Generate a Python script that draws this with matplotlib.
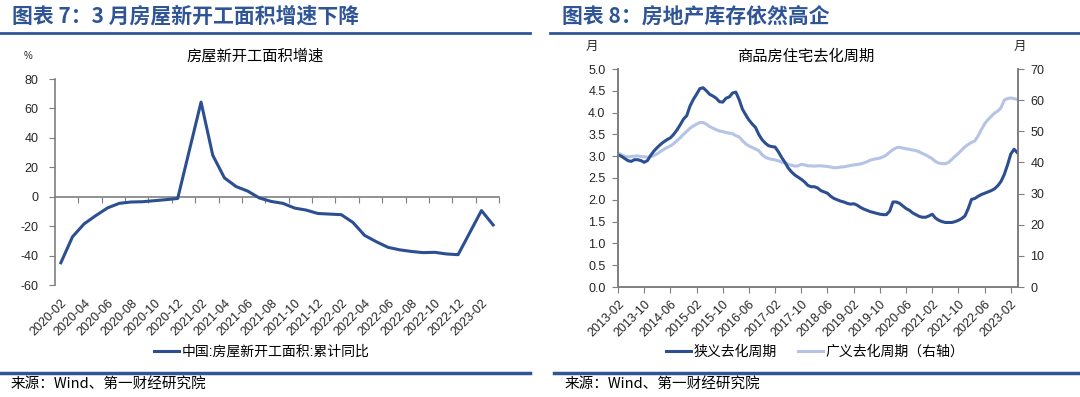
import numpy as np
import pandas as pd
import matplotlib
matplotlib.use('Agg')
import matplotlib.pyplot as plt

plt.rcParams['font.family'] = ['Liberation Sans', 'Noto Sans CJK SC', 'DejaVu Sans']
plt.rcParams['axes.unicode_minus'] = False

# %% data: 图表7 房屋新开工面积累计同比 (%), Jan is missing (NaN, line bridges it)
months_l = pd.period_range('2020-02', '2023-03', freq='M')
newstart_yoy = [-44.9, -27.2, -18.4, -12.8, -7.6, -4.5, -3.6, -3.4, -2.7, -2.0, -1.2,
                np.nan, 64.3, 28.2, 12.8, 6.9, 3.8, -0.9, -3.2, -4.5, -7.7, -9.1, -11.4,
                np.nan, -12.2, -17.5, -26.3, -30.6, -34.4, -36.1, -37.2, -38.0, -37.8, -38.9, -39.4,
                np.nan, -9.4, -19.2]

# %% data: 图表8 商品房住宅去化周期 (月)
months_r = pd.period_range('2013-02', '2023-04', freq='M')
narrow_cycle = [3.03, 3.00, 2.95, 2.90, 2.88, 2.92, 2.92, 2.90, 2.86, 2.90,
                3.02, 3.12, 3.20, 3.27, 3.33, 3.38, 3.42, 3.50, 3.60, 3.72,
                3.85, 3.93, 4.15, 4.30, 4.42, 4.55, 4.57, 4.50, 4.42, 4.38,
                4.33, 4.25, 4.24, 4.33, 4.36, 4.45, 4.47, 4.30, 4.08, 3.95,
                3.83, 3.74, 3.66, 3.50, 3.38, 3.30, 3.24, 3.22, 3.21, 3.10,
                2.97, 2.86, 2.73, 2.64, 2.57, 2.52, 2.47, 2.41, 2.33, 2.30,
                2.30, 2.27, 2.21, 2.18, 2.15, 2.08, 2.03, 2.00, 1.97, 1.95,
                1.92, 1.90, 1.91, 1.88, 1.83, 1.79, 1.76, 1.73, 1.71, 1.69,
                1.67, 1.66, 1.66, 1.74, 1.95, 1.95, 1.92, 1.86, 1.80, 1.76,
                1.70, 1.66, 1.62, 1.60, 1.60, 1.63, 1.67, 1.58, 1.53, 1.50,
                1.48, 1.48, 1.48, 1.50, 1.53, 1.57, 1.63, 1.80, 2.01, 2.03,
                2.08, 2.12, 2.15, 2.18, 2.21, 2.25, 2.32, 2.42, 2.58, 2.80,
                3.05, 3.16, 3.08]
broad_cycle = [43.0, 42.5, 42.0, 41.8, 41.9, 42.0, 42.1, 41.9, 41.8, 41.7,
               41.8, 42.2, 42.8, 43.5, 44.2, 44.8, 45.3, 46.0, 47.0, 47.9,
               49.0, 50.0, 51.0, 51.7, 52.3, 52.8, 52.8, 52.3, 51.5, 51.0,
               50.5, 50.1, 49.9, 49.6, 49.4, 49.2, 48.6, 48.2, 47.0, 46.0,
               45.3, 44.8, 44.3, 43.8, 42.5, 41.7, 41.2, 41.0, 40.8, 40.5,
               40.1, 39.8, 39.4, 39.1, 38.8, 38.9, 39.4, 39.2, 38.9, 38.9,
               38.8, 38.9, 38.9, 38.8, 38.7, 38.5, 38.3, 38.3, 38.5, 38.6,
               38.8, 39.0, 39.2, 39.3, 39.5, 39.8, 40.2, 40.7, 41.0, 41.2,
               41.4, 41.8, 42.4, 43.3, 44.1, 44.7, 44.9, 44.6, 44.4, 44.2,
               44.0, 43.8, 43.4, 42.9, 42.4, 41.8, 41.2, 40.3, 39.8, 39.6,
               39.6, 40.0, 41.0, 42.0, 42.9, 44.0, 45.0, 45.8, 46.4, 46.9,
               48.5, 50.5, 52.4, 53.7, 54.8, 55.8, 56.5, 57.5, 60.0, 60.5,
               60.7, 60.5, 60.2]

# %% style
c_title = '#2F5597'
c_dark = '#2B4F91'
c_light = '#B4C3E6'
c_spine = '#7F7F7F'
c_text = '#262626'

fig = plt.figure(figsize=(10.8, 3.97), dpi=100)
W, H = 1080, 397
def fx(px): return px / W
def fy(py): return 1 - py / H

# headers / footers
for x0, x1, title in [(0, 530, '图表 7：3 月房屋新开工面积增速下降'), (550, 1080, '图表 8：房地产库存依然高企')]:
    fig.text(fx(x0 + 12), fy(16), title, fontsize=15, fontweight='bold', color=c_title,
             ha='left', va='center', family=['Noto Sans CJK SC', 'DejaVu Sans'])
    fig.add_artist(plt.Line2D([fx(x0), fx(x1)], [fy(33), fy(33)], color=c_title, lw=2))
for x0, x1 in [(0, 530), (554, 1080)]:
    fig.add_artist(plt.Line2D([fx(x0), fx(x1)], [fy(373), fy(373)], color=c_title, lw=2.5))
    fig.text(fx(x0 + 11), fy(385), '来源：Wind、第一财经研究院', fontsize=10.5, fontweight='medium',
             color='black', ha='left', va='center', family=['Noto Sans CJK SC', 'DejaVu Sans'])

# %% left chart
ax = fig.add_axes([fx(55), fy(285), fx(499) - fx(55), fy(79) - fy(285)])
x_l = np.arange(len(months_l))
y_l = np.array(newstart_yoy)
ok = ~np.isnan(y_l)
ax.plot(x_l[ok], y_l[ok], color=c_dark, lw=2.2, label='中国:房屋新开工面积:累计同比', solid_joinstyle='round')
ax.set_xlim(-0.5, len(months_l) - 0.5)
ax.set_ylim(-60, 80)
ax.set_yticks(np.arange(-60, 81, 20))
ax.set_xticks(x_l[::2])
ax.set_xticklabels([p.strftime('%Y-%m') for p in months_l[::2]], rotation=45, ha='right',
                   rotation_mode='anchor', fontsize=9, color=c_text)
ax.tick_params(axis='x', length=0, pad=9)
ax.tick_params(axis='y', direction='out', length=4, color=c_spine, labelsize=9, labelcolor=c_text, pad=8)
for s in ['top', 'right', 'bottom']:
    ax.spines[s].set_visible(False)
ax.spines['left'].set_color(c_spine)
ax.spines['left'].set_linewidth(1.2)
zero_ax = ax.secondary_xaxis(60 / 140)
zero_ax.set_xticks(np.arange(1.5, len(months_l), 2))
zero_ax.set_xticklabels([])
zero_ax.tick_params(direction='out', length=4, color=c_spine)
zero_ax.spines['bottom'].set_color(c_spine)
zero_ax.spines['bottom'].set_linewidth(1.2)
ax.patch.set_alpha(0)

fig.text(fx(255), fy(56), '房屋新开工面积增速', fontsize=11, ha='center', va='center', color='black')
fig.text(fx(28), fy(56), '%', fontsize=7, ha='center', va='center', color=c_text)
ax.legend(loc='center', bbox_to_anchor=(fx(262), fy(352)), bbox_transform=fig.transFigure,
          frameon=False, fontsize=10, handlelength=1.8, handletextpad=0.2)

# %% right chart
axr = fig.add_axes([fx(618), fy(287), fx(1018) - fx(618), fy(69) - fy(287)])
axr2 = axr.twinx()
x_r = np.arange(len(months_r))
l1, = axr.plot(x_r, narrow_cycle, color=c_dark, lw=2.2, label='狭义去化周期')
l2, = axr2.plot(x_r, broad_cycle, color=c_light, lw=2.2, label='广义去化周期（右轴）')
axr.set_zorder(axr2.get_zorder() + 1)
axr.patch.set_visible(False)
axr.set_xlim(0, 122.2)
axr.set_ylim(0, 5)
axr2.set_ylim(0, 70)
axr.set_yticks(np.arange(0, 5.01, 0.5))
axr.set_yticklabels([f'{v:.1f}' for v in np.arange(0, 5.01, 0.5)])
axr2.set_yticks(np.arange(0, 71, 10))
axr.set_xticks(x_r[:121:8])
axr.set_xticklabels([p.strftime('%Y-%m') for p in months_r[:121:8]], rotation=45, ha='right',
                    rotation_mode='anchor', fontsize=9, color=c_text)
axr.tick_params(axis='x', direction='out', length=4, color=c_spine, pad=4)
axr.tick_params(axis='y', direction='out', length=4, color=c_spine, labelsize=9, labelcolor=c_text, pad=5)
axr2.tick_params(axis='y', direction='out', length=4, color=c_spine, labelsize=9, labelcolor=c_text, pad=5)
for a in (axr, axr2):
    a.spines['top'].set_visible(False)
    for s in ['left', 'right', 'bottom']:
        a.spines[s].set_color(c_spine)
        a.spines[s].set_linewidth(1.2)

fig.text(fx(806), fy(56), '商品房住宅去化周期', fontsize=11, ha='center', va='center', color='black')
fig.text(fx(592), fy(47), '月', fontsize=9, ha='center', va='center', color=c_text)
fig.text(fx(1020), fy(47), '月', fontsize=9, ha='center', va='center', color=c_text)
axr.legend([l1, l2], [l1.get_label(), l2.get_label()], loc='center', ncol=2,
           bbox_to_anchor=(fx(815), fy(352)), bbox_transform=fig.transFigure,
           frameon=False, fontsize=10, handlelength=1.8, handletextpad=0.2, columnspacing=1.5)

fig.savefig('out.png', dpi=100)
